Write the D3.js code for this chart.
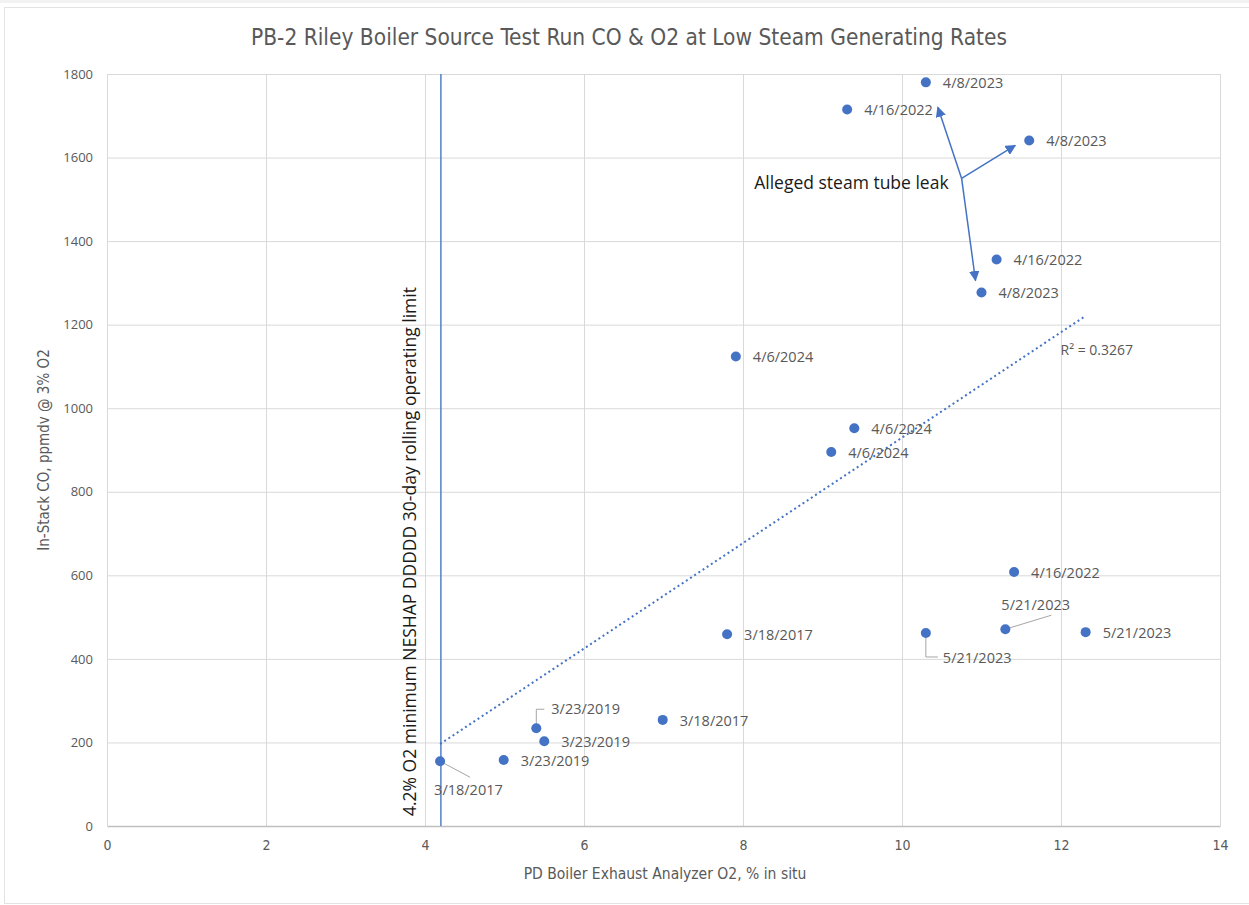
<!DOCTYPE html>
<html>
<head>
<meta charset="utf-8">
<script src="https://cdn.jsdelivr.net/npm/d3@7"></script>
<style>
  html, body { margin: 0; padding: 0; background: #fff; }
  svg { display: block; }
</style>
</head>
<body>
<svg id="chart" width="1249" height="905"></svg>
<script>
// Source test runs: exhaust O2 (%) vs stack CO (ppmdv @ 3% O2)
const o2 = [10.30, 9.31, 11.60, 11.19, 11.00, 7.91, 9.40, 9.11, 11.41, 11.30, 12.31, 10.30, 7.80, 6.99, 5.40, 5.50, 4.99, 4.19];
const co = [1780, 1715, 1641, 1356, 1277, 1124, 952, 895, 608, 471, 464, 462, 459, 254, 234, 203, 158, 155];
const runDates = ["4/8/2023", "4/16/2022", "4/8/2023", "4/16/2022", "4/8/2023", "4/6/2024", "4/6/2024", "4/6/2024",
  "4/16/2022", "5/21/2023", "5/21/2023", "5/21/2023", "3/18/2017", "3/18/2017", "3/23/2019", "3/23/2019", "3/23/2019", "3/18/2017"];
const xTicks = [0, 2, 4, 6, 8, 10, 12, 14];
const yTicks = [0, 200, 400, 600, 800, 1000, 1200, 1400, 1600, 1800];
const o2Limit = 4.2;
const leakRuns = [0, 2, 4]; // runs flagged as the alleged steam tube leak
const rSquaredText = "R² = 0.3267";

const svg = d3.select("#chart");
const W = 1249, H = 905;
const m = { left: 107, right: 29, top: 74, bottom: 79 };

// outer chart frame
svg.append("rect").attr("x", 0).attr("y", 0).attr("width", W).attr("height", 3).attr("fill", "#f2f2f2");
svg.append("rect").attr("x", 4.5).attr("y", 7.5).attr("width", W).attr("height", H - 9)
  .attr("fill", "#fff").attr("stroke", "#e3e3e3");

const x = d3.scaleLinear().domain([0, 14]).range([m.left, W - m.right]);
const y = d3.scaleLinear().domain([0, 1800]).range([H - m.bottom, m.top]);

const narrow = "'Liberation Sans Narrow', 'Arial Narrow', 'DejaVu Sans Condensed', sans-serif";
const labelFont = "'Open Sans', 'Noto Sans', sans-serif";

// gridlines
svg.append("g").attr("class", "hgrid")
  .attr("transform", `translate(${m.left},0)`)
  .call(d3.axisLeft(y).tickValues(yTicks.filter(v => v > 0)).tickSize(-(W - m.left - m.right)).tickFormat(""))
  .call(g => g.select(".domain").remove())
  .call(g => g.selectAll("line").attr("stroke", "#d9d9d9").attr("stroke-width", 1));
svg.append("g").attr("class", "vgrid")
  .attr("transform", `translate(0,${m.top})`)
  .call(d3.axisBottom(x).tickValues(xTicks).tickSize(H - m.bottom - m.top).tickFormat(""))
  .call(g => g.select(".domain").remove())
  .call(g => g.selectAll("line").attr("stroke", "#d9d9d9").attr("stroke-width", 1));

// x axis baseline and labels
svg.append("g")
  .attr("transform", `translate(0,${H - m.bottom})`)
  .call(d3.axisBottom(x).tickValues(xTicks).tickSize(0).tickPadding(14).tickFormat(d3.format("d")))
  .call(g => g.select(".domain").attr("stroke", "#bfbfbf").attr("stroke-width", 1.5))
  .call(g => g.selectAll("text").attr("fill", "#595959").attr("font-size", 14).attr("font-family", narrow));

// y axis labels
svg.append("g")
  .attr("transform", `translate(${m.left},0)`)
  .call(d3.axisLeft(y).tickValues(yTicks).tickSize(0).tickPadding(14).tickFormat(d3.format("d")))
  .call(g => g.select(".domain").remove())
  .call(g => g.selectAll("text").attr("fill", "#595959").attr("font-size", 13).attr("font-family", labelFont));

// titles
svg.append("text").attr("x", 629).attr("y", 45).attr("text-anchor", "middle")
  .attr("font-family", narrow).attr("font-size", 22.5).attr("fill", "#595959")
  .text("PB-2 Riley Boiler Source Test Run CO & O2 at Low Steam Generating Rates");
svg.append("text").attr("x", 665).attr("y", 879).attr("text-anchor", "middle")
  .attr("font-family", narrow).attr("font-size", 15.5).attr("fill", "#595959")
  .text("PD Boiler Exhaust Analyzer O2, % in situ");
svg.append("text").attr("transform", `translate(49,${(m.top + H - m.bottom) / 2}) rotate(-90)`)
  .attr("text-anchor", "middle")
  .attr("font-family", narrow).attr("font-size", 15).attr("fill", "#595959")
  .text("In-Stack CO, ppmdv @ 3% O2");

// operating limit line
svg.append("line")
  .attr("x1", x(o2Limit)).attr("x2", x(o2Limit))
  .attr("y1", y(1800)).attr("y2", y(0))
  .attr("stroke", "#4f81c7").attr("stroke-width", 1.5);
svg.append("text")
  .attr("transform", `translate(${x(o2Limit) - 25},${y(0) - 10}) rotate(-90)`)
  .attr("font-family", labelFont).attr("font-size", 17.5).attr("fill", "#1a1a1a")
  .text("4.2% O2 minimum NESHAP DDDDD 30-day rolling operating limit");

// linear trendline (least squares)
const n = o2.length;
const mx = d3.mean(o2), my = d3.mean(co);
let sxy = 0, sxx = 0;
for (let i = 0; i < n; i++) { sxy += (o2[i] - mx) * (co[i] - my); sxx += (o2[i] - mx) ** 2; }
const slope = sxy / sxx, icpt = my - slope * mx;
const [xmin, xmax] = d3.extent(o2);
svg.append("line")
  .attr("x1", x(xmin)).attr("y1", y(icpt + slope * xmin))
  .attr("x2", x(xmax)).attr("y2", y(icpt + slope * xmax))
  .attr("stroke", "#4472c4").attr("stroke-width", 2).attr("stroke-dasharray", "2,3");
svg.append("text").attr("x", x(12.45)).attr("y", y(1124) - 1).attr("text-anchor", "middle")
  .attr("font-family", labelFont).attr("font-size", 14).attr("fill", "#595959")
  .text(rSquaredText);

// label placement: default to the right; a few sit elsewhere with leader lines
const labelAt = {
  17: { dx: -6, dy: 28, anchor: "start", leader: [[0, 0], [30, 16]] },
  14: { dx: 15, dy: -20, anchor: "start", leader: [[0, 0], [0, -19], [8, -19]] },
  9: { dx: -4, dy: -25, anchor: "start", leader: [[0, 0], [46, -14]] },
  11: { dx: 17, dy: 24, anchor: "start", leader: [[0, 0], [0, 24], [12, 24]] }
};

const pts = d3.range(n).map(i => ({ i, px: x(o2[i]), py: y(co[i]), date: runDates[i] }));

// leader lines
svg.append("g").selectAll("path")
  .data(pts.filter(p => labelAt[p.i]))
  .join("path")
  .attr("d", p => d3.line()(labelAt[p.i].leader.map(([a, b]) => [p.px + a, p.py + b])))
  .attr("fill", "none").attr("stroke", "#a6a6a6").attr("stroke-width", 1);

// points
svg.append("g").selectAll("circle")
  .data(pts).join("circle")
  .attr("cx", p => p.px).attr("cy", p => p.py).attr("r", 5)
  .attr("fill", "#4472c4");

// data labels
svg.append("g").selectAll("text")
  .data(pts).join("text")
  .attr("x", p => p.px + (labelAt[p.i] ? labelAt[p.i].dx : 17))
  .attr("y", p => p.py + (labelAt[p.i] ? labelAt[p.i].dy : 0))
  .attr("dy", "0.4em")
  .attr("text-anchor", p => labelAt[p.i] ? labelAt[p.i].anchor : "start")
  .attr("font-family", labelFont).attr("font-size", 14.5).attr("fill", "#595959")
  .text(p => p.date);

// callout: alleged steam tube leak
const hub = [x(10.75), y(1550)];
svg.append("text").attr("x", hub[0] - 13).attr("y", hub[1] + 4).attr("dy", "0.35em")
  .attr("text-anchor", "end")
  .attr("font-family", labelFont).attr("font-size", 17.5).attr("fill", "#1a1a1a")
  .text("Alleged steam tube leak");

svg.append("defs").append("marker")
  .attr("id", "tri").attr("viewBox", "0 0 10 10").attr("refX", 9).attr("refY", 5)
  .attr("markerWidth", 7).attr("markerHeight", 7).attr("orient", "auto")
  .append("path").attr("d", "M0,0L10,5L0,10Z").attr("fill", "#4472c4");

// arrow tips stop short of each flagged run's marker
const tipOffsets = { 0: [12, 25], 2: [-14, 5], 4: [-6, -12] };
svg.append("g").selectAll("line")
  .data(leakRuns).join("line")
  .attr("x1", hub[0]).attr("y1", hub[1])
  .attr("x2", i => x(o2[i]) + tipOffsets[i][0])
  .attr("y2", i => y(co[i]) + tipOffsets[i][1])
  .attr("stroke", "#4472c4").attr("stroke-width", 1.5)
  .attr("marker-end", "url(#tri)");
</script>
</body>
</html>
